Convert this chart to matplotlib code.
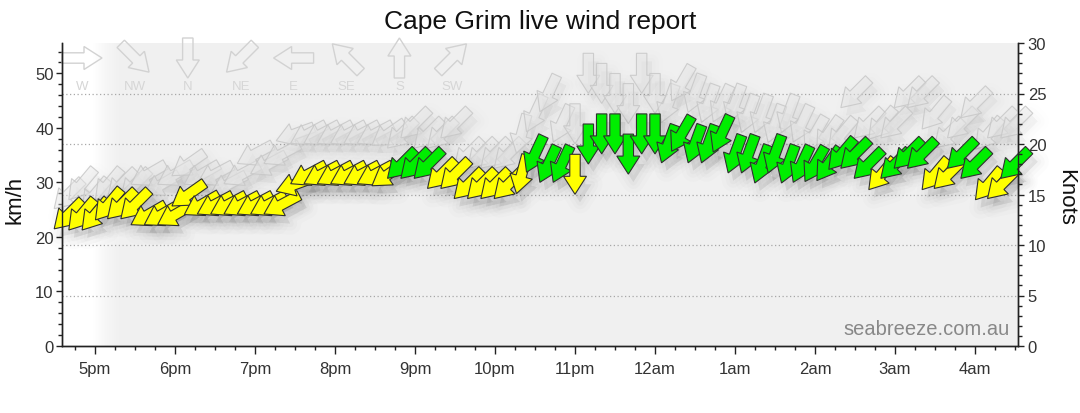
import numpy as np
import matplotlib
matplotlib.use("Agg")
import matplotlib.pyplot as plt
from matplotlib.path import Path
from matplotlib.patches import PathPatch
from matplotlib.transforms import Affine2D, ScaledTranslation
from matplotlib.ticker import MultipleLocator, FixedLocator
from matplotlib.colors import LinearSegmentedColormap

plt.rcParams['font.family'] = ['Liberation Sans', 'DejaVu Sans']

# ---------------- data ----------------
times = ["16:40", "16:50", "17:00", "17:10", "17:20", "17:30", "17:40", "17:50",
         "18:00", "18:10", "18:20", "18:30", "18:40", "18:50", "19:00", "19:10",
         "19:20", "19:30", "19:40", "19:50", "20:00", "20:10", "20:20", "20:30",
         "20:40", "20:50", "21:00", "21:10", "21:20", "21:30", "21:40", "21:50",
         "22:00", "22:10", "22:20", "22:30", "22:40", "22:50", "23:00", "23:10",
         "23:20", "23:30", "23:40", "23:50", "00:00", "00:10", "00:20", "00:30",
         "00:40", "00:50", "01:00", "01:10", "01:20", "01:30", "01:40", "01:50",
         "02:00", "02:10", "02:20", "02:30", "02:40", "02:50", "03:00", "03:10",
         "03:20", "03:30", "03:40", "03:50", "04:00", "04:10", "04:20", "04:30"]

speed_kn = [13, 13, 13, 14, 14, 14, 13, 13, 13, 15, 14, 14, 14, 14, 14, 14,
            14, 16, 17, 17, 17, 17, 17, 17, 17, 18, 18, 18, 17, 17, 16, 16,
            16, 16, 17, 19, 18, 18, 17, 20, 21, 21, 19, 21, 21, 20, 21, 20,
            20, 21, 19, 19, 18, 19, 18, 18, 18, 18, 19, 19, 18, 17, 18, 19,
            19, 17, 17, 19, 18, 16, 16, 18]

gust_kn = [15, 16, 15, 16, 16, 16, 17, 16, 17, 18, 17, 17, 16, 17, 19, 18,
           19, 21, 21, 21, 21, 21, 21, 21, 21, 21, 22, 21, 21, 22, 19, 19,
           19, 19, 21, 23, 25, 22, 22, 27, 26, 25, 24, 27, 25, 24, 26, 25,
           24, 24, 24, 23, 23, 22, 23, 22, 21, 21, 21, 25, 22, 22, 22, 25,
           25, 23, 21, 22, 24, 21, 22, 22]

direction_deg = [45, 40, 40, 40, 45, 45, 60, 60, 60, 55, 60, 62, 62, 62, 62, 62,
                 62, 70, 62, 62, 62, 62, 62, 62, 55, 45, 45, 45, 45, 45, 45, 45,
                 45, 45, 15, 25, 25, 25, 0, 0, 0, 0, 0, 0, 0, 20,
                 30, 20, 20, 25, 20, 20, 20, 20, 20, 25, 30, 35, 40, 45, 45, 40,
                 45, 45, 45, 40, 45, 45, 45, 40, 45, 45]

hour_labels = ["5pm", "6pm", "7pm", "8pm", "9pm", "10pm", "11pm",
               "12am", "1am", "2am", "3am", "4am"]
compass_labels = ["W", "NW", "N", "NE", "E", "SE", "S", "SW"]
compass_deg = [270, 315, 0, 45, 90, 135, 180, 225]

KMH_PER_KN = 1.852
GREEN_FROM_KN = 18


def to_hours(s):
    h, m = map(int, s.split(":"))
    v = h + m / 60.0 - 17.0
    if v < -6:
        v += 24
    return v


t = np.array([to_hours(s) for s in times])
spd = np.array(speed_kn) * KMH_PER_KN
gst = np.array(gust_kn) * KMH_PER_KN

# ---------------- figure ----------------
W, H = 1080, 414
fig = plt.figure(figsize=(W / 100, H / 100), dpi=100)
ax_l, ax_r, ax_b, ax_t = 62, 1018, 347, 44
ax = fig.add_axes([ax_l / W, (H - ax_b) / H, (ax_r - ax_l) / W, (ax_b - ax_t) / H])

XMIN, XMAX = -33 / 80, (ax_r - 95) / 80
YMAX = 30 * KMH_PER_KN

ax.set_facecolor("#f0f0f0")
# daylight shading on the left, fading into night
fade0, fade1 = -0.02, 0.33
ax.axvspan(XMIN, fade0, color="white", lw=0, zorder=0)
cmap = LinearSegmentedColormap.from_list("sun", ["#ffffff", "#f6f6f6", "#f0f0f0"])
ax.imshow(np.linspace(0, 1, 256).reshape(1, -1), extent=[fade0, fade1, 0, YMAX],
          cmap=cmap, aspect="auto", zorder=0, interpolation="bilinear")

for k in [5, 10, 15, 20, 25]:
    ax.axhline(k * KMH_PER_KN, color="#a8a8a8", lw=0.9, ls=(0, (1, 2)), zorder=1)

ax.set_xlim(XMIN, XMAX)
ax.set_ylim(0, YMAX)

# ---------------- arrow shape (pixels, pointing +x) ----------------
L, HL, SW, HW = 40.0, 18.0, 5.2, 11.5
verts = [(-L / 2, -SW), (L / 2 - HL, -SW), (L / 2 - HL, -HW), (L / 2, 0),
         (L / 2 - HL, HW), (L / 2 - HL, SW), (-L / 2, SW), (-L / 2, -SW)]
codes = [Path.MOVETO] + [Path.LINETO] * 6 + [Path.CLOSEPOLY]
ARROW = Path(verts, codes)


def arrow_tf(x, y, deg_from, base, dx=0.0, dy=0.0):
    ang = -90.0 - deg_from
    return Affine2D().rotate_deg(ang).translate(dx, dy) + ScaledTranslation(x, y, base)


def draw_shadow(x, y, d, strength, z):
    for lw, a in [(16, 0.010 * strength), (10, 0.014 * strength),
                  (5, 0.018 * strength), (0, 0.024 * strength)]:
        p = PathPatch(ARROW, transform=arrow_tf(x, y, d, ax.transData, 5, -8),
                      facecolor=(0, 0, 0, a), edgecolor=(0, 0, 0, a if lw else 0),
                      lw=lw, joinstyle="round", zorder=z, clip_on=False)
        ax.add_patch(p)


# gust arrows
for x, y, d in zip(t, gst, direction_deg):
    draw_shadow(x, y, d, 0.5, 2)
for x, y, d in zip(t, gst, direction_deg):
    ax.add_patch(PathPatch(ARROW, transform=arrow_tf(x, y, d, ax.transData),
                           facecolor=(0.90, 0.90, 0.90, 0.45),
                           edgecolor=(0.78, 0.78, 0.78, 0.85), lw=0.8,
                           zorder=3, clip_on=False))

# average wind arrows
for x, y, d in zip(t, spd, direction_deg):
    draw_shadow(x, y, d, 1.0, 4)
for x, y, d, k in zip(t, spd, direction_deg, speed_kn):
    col = "#00ee00" if k >= GREEN_FROM_KN else "#ffff00"
    ax.add_patch(PathPatch(ARROW, transform=arrow_tf(x, y, d, ax.transData),
                           facecolor=col, edgecolor="#303030", lw=0.8,
                           zorder=5, clip_on=False))

# compass legend
for k, (lab, d) in enumerate(zip(compass_labels, compass_deg)):
    fx = (20 + 52.9 * k) / (ax_r - ax_l)
    fy = (ax_b - 59) / (ax_b - ax_t)
    ax.add_patch(PathPatch(ARROW, transform=arrow_tf(fx, fy, d, ax.transAxes),
                           facecolor="none", edgecolor="#d2d2d2", lw=1.0, zorder=2,
                           clip_on=False))
    ax.text(fx, (ax_b - 87) / (ax_b - ax_t), lab, transform=ax.transAxes,
            ha="center", va="center", fontsize=9.5, color="#d6d6d6", zorder=2)

# ---------------- axes styling ----------------
ax2 = ax.twinx()
ax2.set_ylim(0, 30)
ax2.patch.set_visible(False)

for a in (ax, ax2):
    a.spines["top"].set_visible(False)
    for s in ("left", "right", "bottom"):
        a.spines[s].set_color("#222222")
        a.spines[s].set_linewidth(1.0)

ax.xaxis.set_major_locator(FixedLocator(np.arange(0, 12)))
ax.set_xticklabels(hour_labels)
ax.xaxis.set_minor_locator(MultipleLocator(0.25))
ax.yaxis.set_major_locator(MultipleLocator(10))
ax.yaxis.set_minor_locator(MultipleLocator(2))
ax2.yaxis.set_major_locator(MultipleLocator(5))
ax2.yaxis.set_minor_locator(MultipleLocator(1))

ax.tick_params(axis="x", which="major", length=6, width=1, color="#222222",
               labelsize=12, labelcolor="#333333", pad=5)
ax.tick_params(axis="x", which="minor", length=3, width=1, color="#222222")
ax.tick_params(axis="y", which="major", length=4, width=1, color="#222222",
               labelsize=12, labelcolor="#333333", pad=2)
ax.tick_params(axis="y", which="minor", length=3, width=1, color="#222222")
ax2.tick_params(axis="y", which="major", length=4, width=1, color="#222222",
                labelsize=12, labelcolor="#333333", pad=3)
ax2.tick_params(axis="y", which="minor", length=3, width=1, color="#222222")

fig.text(0.5, 1 - 22 / H, "Cape Grim live wind report", ha="center", va="center",
         fontsize=19, color="#111111")
fig.text(15 / W, 1 - 200 / H, "km/h", rotation=90, ha="center", va="center",
         fontsize=16, color="#111111")
fig.text(1066 / W, 1 - 197 / H, "Knots", rotation=270, ha="center", va="center",
         fontsize=16, color="#111111")
ax.text(0.9916, 0.04, "seabreeze.com.au", transform=ax.transAxes, ha="right",
        va="baseline", fontsize=14.5, color="#888888", zorder=6)

fig.savefig("out.png", dpi=100)
